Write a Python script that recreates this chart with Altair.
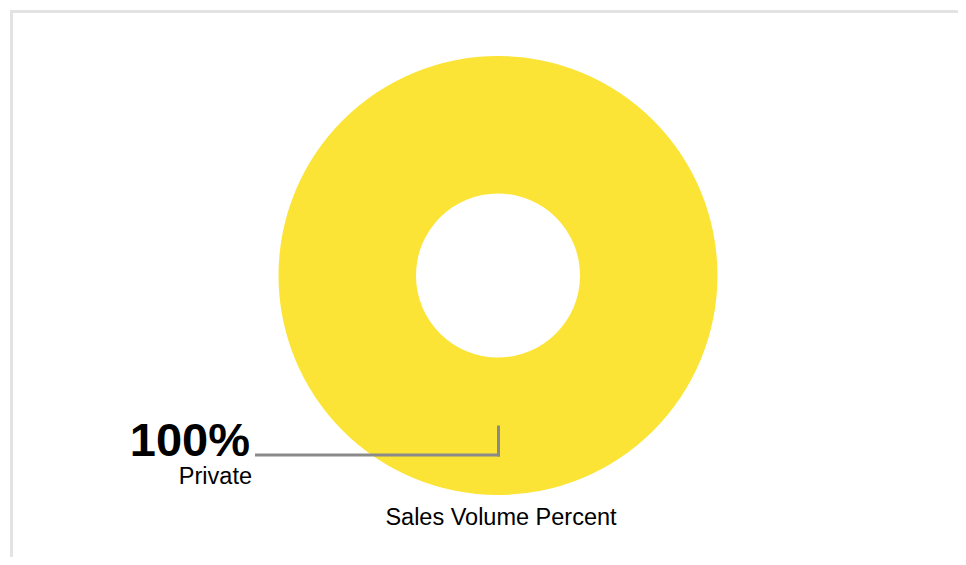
import altair as alt
import pandas as pd

categories = ["Private"]
values = [100]
title_text = "Sales Volume Percent"

df = pd.DataFrame({"category": categories, "value": values})
total = sum(values)
df["pct"] = [f"{round(v / total * 100)}%" for v in values]

FONT = "Liberation Sans"

base = alt.Chart(df)

donut = base.mark_arc(innerRadius=82, outerRadius=219.5).encode(
    theta=alt.Theta("value:Q"),
    color=alt.Color("category:N", scale=alt.Scale(range=["#fbe435"]), legend=None),
    x=alt.value(488),
    y=alt.value(265.5),
)

leader_v = base.mark_rule(color="#8a8a8a", strokeWidth=3).encode(
    x=alt.value(488.5), y=alt.value(415.5), y2=alt.value(446.5)
)
leader_h = base.mark_rule(color="#8a8a8a", strokeWidth=3).encode(
    x=alt.value(245), x2=alt.value(490), y=alt.value(445)
)

pct_text = base.mark_text(
    align="right", baseline="alphabetic", font=FONT, fontSize=47, fontWeight="bold", color="#000000"
).encode(text="pct:N", x=alt.value(240), y=alt.value(446))

cat_text = base.mark_text(
    align="right", baseline="alphabetic", font=FONT, fontSize=23.5, color="#000000"
).encode(text="category:N", x=alt.value(242), y=alt.value(474))

title_df = pd.DataFrame({"t": [title_text]})
title_mark = alt.Chart(title_df).mark_text(
    align="center", baseline="alphabetic", font=FONT, fontSize=23.5, color="#000000"
).encode(text="t:N", x=alt.value(491), y=alt.value(514.5))

border_top = base.mark_rule(color="#e3e3e3", strokeWidth=3).encode(
    x=alt.value(0), x2=alt.value(950), y=alt.value(1.5)
)
border_left = base.mark_rule(color="#e3e3e3", strokeWidth=3).encode(
    x=alt.value(1.5), y=alt.value(0), y2=alt.value(549)
)

chart = alt.layer(
    border_top, border_left, donut, leader_v, leader_h, pct_text, cat_text, title_mark
).properties(
    width=950,
    height=549,
    autosize=alt.AutoSizeParams(type="fit", contains="padding"),
    padding=0,
).configure_view(stroke=None)

chart.save("out.html", embed_options={"renderer": "svg", "actions": False})
